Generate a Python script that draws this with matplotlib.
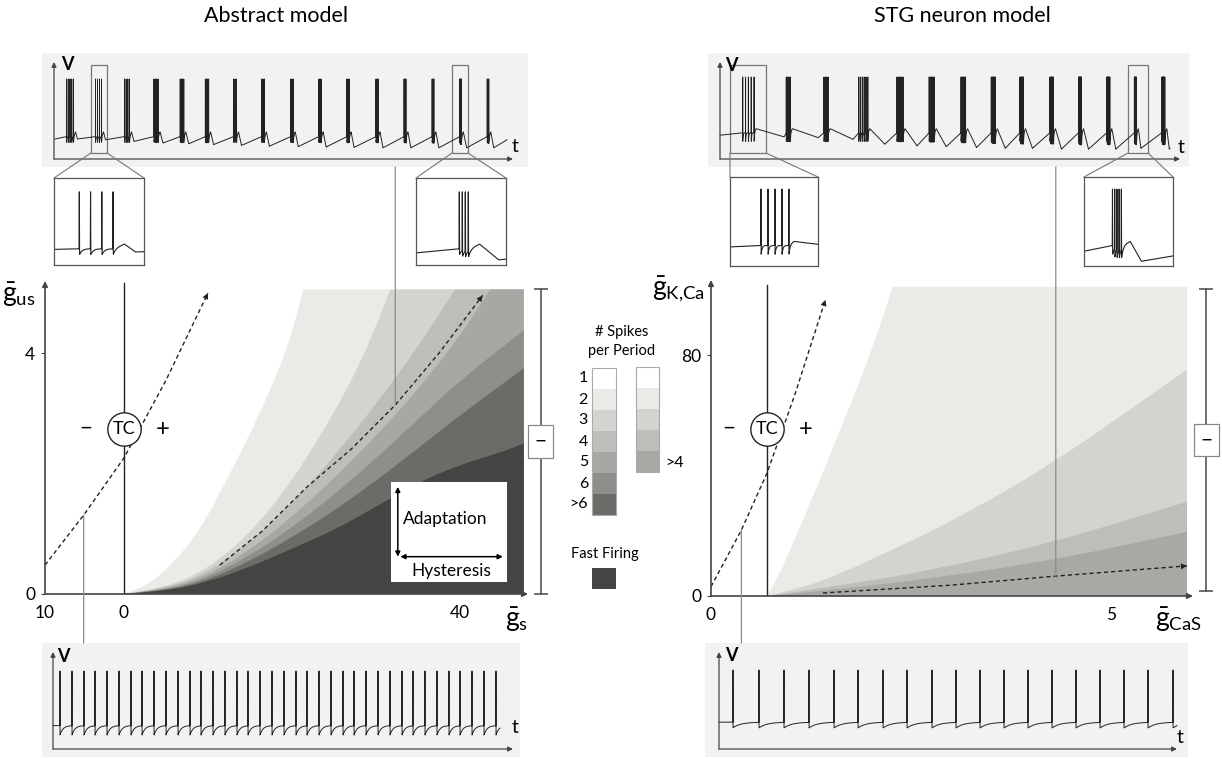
import numpy as np
import matplotlib
matplotlib.use("Agg")
import matplotlib.pyplot as plt
from matplotlib.patches import Rectangle, ConnectionPatch, PathPatch
from matplotlib.path import Path
from matplotlib.transforms import blended_transform_factory

plt.rcParams["font.family"] = ["Lato", "DejaVu Sans"]
plt.rcParams["mathtext.fontset"] = "custom"
plt.rcParams["mathtext.rm"] = "Lato"
plt.rcParams["mathtext.it"] = "Lato:italic"
plt.rcParams["mathtext.bf"] = "Lato:bold"
plt.rcParams["path.simplify"] = False

# ---------------- data ----------------
# abstract model: boundaries between spike-count regions (g_s, g_us)
ABS_B1_GS = [0, 2.7, 5.87, 9.05, 12.22, 16.19, 19.56, 21.35]
ABS_B1_GUS = [0, 0.12, 0.51, 1.06, 1.89, 2.99, 4.11, 5.06]
ABS_B2_GS = [0, 5, 10, 15, 20, 25, 28, 30, 31.7]
ABS_B2_GUS = [0, 0.10, 0.42, 1.0, 1.87, 3.0, 3.8, 4.45, 5.06]
ABS_B3_GS = [0, 5, 10, 15, 20, 25, 30, 35, 39.4]
ABS_B3_GUS = [0, 0.085, 0.36, 0.85, 1.5, 2.28, 3.15, 4.1, 5.06]
ABS_B4_GS = [0, 5, 10, 15, 20, 25, 30, 35, 40, 43.6]
ABS_B4_GUS = [0, 0.075, 0.31, 0.73, 1.28, 1.92, 2.62, 3.4, 4.28, 5.06]
ABS_B5_GS = [0, 5, 10, 15, 20, 25, 30, 35, 40, 47.6]
ABS_B5_GUS = [0, 0.065, 0.27, 0.64, 1.1, 1.65, 2.25, 2.9, 3.55, 4.38]
ABS_B6_GS = [0, 5, 10, 15, 20, 25, 30, 35, 40, 47.6]
ABS_B6_GUS = [0, 0.055, 0.23, 0.55, 0.94, 1.38, 1.88, 2.42, 2.97, 3.75]
ABS_B7_GS = [0, 5, 10, 15, 20, 25, 30, 35, 40, 44.4, 47.6]
ABS_B7_GUS = [0, 0.05, 0.2, 0.45, 0.75, 1.06, 1.45, 1.85, 2.15, 2.33, 2.5]
ABS_TOP = 5.06
ABS_RIGHT = 47.6

ABS_PATH_GS = [11.4, 16.5, 21.8, 27.0, 32.3, 37.5, 42.7]
ABS_PATH_GUS = [0.48, 1.05, 1.78, 2.4, 3.14, 4.0, 4.96]
ABS_TC_GS = [-9.4, -4.8, 0, 5, 10]
ABS_TC_GUS = [0.48, 1.31, 2.26, 3.55, 5.0]

# STG model: boundaries (g_CaS, g_KCa)
STG_B1_X = [0.7, 0.82, 1.01, 1.36, 1.70, 2.03, 2.27]
STG_B1_Y = [0, 5.3, 16.4, 38.5, 60.7, 82.8, 102.6]
STG_B2_X = [0.7, 1.11, 1.53, 2.36, 3.2, 4.31, 5.95]
STG_B2_Y = [0, 2.5, 6.4, 16.4, 27.5, 44.6, 75.2]
STG_B3_X = [0.7, 1.53, 2.78, 4.31, 5.95]
STG_B3_Y = [0, 3.1, 8.6, 18.0, 31.3]
STG_B4_X = [0.7, 1.53, 2.78, 4.31, 5.95]
STG_B4_Y = [0, 2.0, 5.9, 12.0, 21.3]
STG_TOP = 102.6
STG_RIGHT = 5.95

STG_PATH_X = [1.4, 3.0, 4.31, 5.95]
STG_PATH_Y = [1.0, 3.6, 6.6, 10.0]
STG_TC_X = [0, 0.38, 0.7, 1.05, 1.43]
STG_TC_Y = [3.1, 21.9, 40.8, 67.0, 98.3]

# legend
LEGEND_LEFT_LABELS = ["1", "2", "3", "4", "5", "6", ">6"]
LEGEND_LEFT_COLORS = ["#ffffff", "#eaeae6", "#d3d3cf", "#bdbdb9",
                      "#a7a7a3", "#8e8e8a", "#6b6b67"]
LEGEND_RIGHT_COLORS = ["#ffffff", "#eaeae6", "#d3d3cf", "#bdbdb9", "#a8a8a4"]
FAST_COLOR = "#444442"

# voltage traces: burst centres, spikes per burst, burst span, trough level, trough delay
TL_CENTERS = [16, 44.5, 73, 102, 128, 153, 181, 209, 238, 266, 294, 323, 351, 379, 406.5, 434]
TL_SPIKES = [5, 4, 4, 4, 4, 4, 3, 3, 3, 3, 3, 3, 3, 3, 4, 3]
TL_SPANS = [7.0, 6.0, 5.0, 4.0, 3.5, 3.2, 3.0, 2.7, 2.5, 2.3, 2.1, 2.0, 1.8, 1.7, 1.6, 1.5]
TL_TROUGHS = [0.25, 0.24, 0.22, 0.2, 0.19, 0.18, 0.17, 0.16, 0.155, 0.15,
              0.145, 0.14, 0.14, 0.14, 0.14, 0.14]
TL_DELAYS = [4, 4, 4.5, 5, 5, 5, 5, 5, 5, 5, 5, 5, 5, 5, 5.4, 5]

TR_CENTERS = [28.4, 68.3, 106, 143.3, 180, 211.7, 243.3, 273.3, 301.7,
              331.7, 360, 388.3, 415.4, 443.3]
TR_SPIKES = [5, 4, 4, 6, 6, 6, 7, 7, 7, 7, 7, 7, 5, 7]
TR_SPANS = [11.4, 4.0, 4.0, 9.0, 6.0, 5.0, 4.5, 4.0, 3.5, 3.5, 3.0, 3.0, 2.0, 3.0]
TR_TROUGHS = [0.27, 0.26, 0.24, 0.18, 0.16, 0.15, 0.14, 0.13, 0.13, 0.12,
              0.12, 0.12, 0.13, 0.12]
TR_DELAYS = [30, 28, 25, 17, 14, 12, 11, 10, 9, 8, 7, 6, 4.5, 4.5]

BL_SPIKES = [7, 19, 31, 42, 54, 66, 78, 89, 101, 113, 125, 137, 148, 160, 172,
             184, 195, 207, 219, 231, 243, 254, 266, 278, 290, 301, 313, 325,
             337, 349, 360, 372, 384, 396, 407, 419, 431, 443]
BR_SPIKES = [14, 40, 65, 90, 115, 139, 164, 188, 213, 237, 261, 285, 309,
             333, 357, 381, 405, 429, 454]

W, H = 1222, 758
fig = plt.figure(figsize=(W / 100, H / 100), dpi=100)

TRACE_BG = "#f2f2f0"
AXIS_COLOR = "#444444"
LINK_COLOR = "#8a8a8a"
TRACE_COLOR = "#222222"


def px_axes(x0, y0, x1, y1):
    """Axes placed by pixel box (top-left origin)."""
    return fig.add_axes([x0 / W, 1 - y1 / H, (x1 - x0) / W, (y1 - y0) / H])


def arrow(ax, start, end, lw=1.0, color=AXIS_COLOR, scale=8, style="-|>", zorder=3):
    ax.annotate("", xy=end, xytext=start, annotation_clip=False, zorder=zorder,
                arrowprops=dict(arrowstyle=style, color=color, lw=lw,
                                mutation_scale=scale, shrinkA=0, shrinkB=0))


def trace_values(t, spike_times, knot_t, knot_v, ahp, tau, peak=1.0, width=0.05):
    v = np.interp(t, knot_t, knot_v)
    for ts in spike_times:
        d = t - ts
        m = d > 0
        v[m] -= ahp * np.exp(-d[m] / tau)
    for ts in spike_times:
        d = np.abs(t - ts)
        m = d < width
        v[m] = np.maximum(v[m], peak - (peak - v[m]) * d[m] / width)
    return v


def burst_model(t0, v0, t1, v1, centers, n_spikes, spans, troughs, delays, base, hump):
    kt, kv, spikes = [t0], [v0], []
    for c, n, s, tr, dl in zip(centers, n_spikes, spans, troughs, delays):
        b0, b1 = c - s / 2, c + s / 2
        kt += [b0, b1, b1 + min(2.0, dl / 2), b1 + dl]
        kv += [base, base, hump, tr]
        spikes += list(np.linspace(b0, b1, n))
    kt.append(t1)
    kv.append(v1)
    return kt, kv, spikes


def time_grid(t0, t1, spikes, n=60000):
    # make sure every spike peak is sampled
    return np.unique(np.concatenate([np.linspace(t0, t1, n), np.asarray(spikes, float)]))


def trace_axes(box, xlim, ylim, t, v, x_end, y_top, v_pos, t_pos):
    ax = px_axes(*box)
    ax.set_facecolor(TRACE_BG)
    for s in ax.spines.values():
        s.set_visible(False)
    ax.set_xticks([])
    ax.set_yticks([])
    ax.set_xlim(*xlim)
    ax.set_ylim(*ylim)
    ax.plot(t, v, color=TRACE_COLOR, lw=0.7)
    arrow(ax, (0, 0), (x_end, 0), lw=0.9, scale=7)
    arrow(ax, (0, 0), (0, y_top), lw=0.9, scale=7)
    ax.text(*v_pos, "V", fontsize=13, fontweight="bold", ha="center", va="center")
    ax.text(*t_pos, "t", fontsize=14, ha="center", va="center")
    return ax


def inset_axes(box, parent, t, v, xr, yr):
    ax = px_axes(*box)
    ax.plot(t, v, color=TRACE_COLOR, lw=0.8)
    ax.set_xlim(*xr)
    ax.set_ylim(*yr)
    ax.set_xticks([])
    ax.set_yticks([])
    for s in ax.spines.values():
        s.set_color("#555555")
        s.set_linewidth(0.9)
    parent.add_patch(Rectangle((xr[0], yr[0]), xr[1] - xr[0], yr[1] - yr[0],
                               fill=False, ec="#777777", lw=0.9))
    for (px, fx) in ((xr[0], 0), (xr[1], 1)):
        con = ConnectionPatch(xyA=(px, yr[0]), coordsA=parent.transData,
                              xyB=(fx, 1), coordsB=ax.transAxes,
                              color="#777777", lw=0.8)
        fig.add_artist(con)
    return ax


def smooth_region(ax, xs, ys, right, top, color):
    """Area under a boundary, drawn with quadratic Bezier segments through the read points."""
    pts = list(zip(xs, ys))
    verts, codes = [pts[0]], [Path.MOVETO]
    for i in range(1, len(pts) - 1):
        mid = ((pts[i][0] + pts[i + 1][0]) / 2, (pts[i][1] + pts[i + 1][1]) / 2)
        verts += [pts[i], mid]
        codes += [Path.CURVE3, Path.CURVE3]
    verts.append(pts[-1])
    codes.append(Path.LINETO)
    if xs[-1] < right:
        verts.append((right, top))
        codes.append(Path.LINETO)
    verts += [(right, 0), (xs[0], 0), (xs[0], 0)]
    codes += [Path.LINETO, Path.LINETO, Path.CLOSEPOLY]
    ax.add_patch(PathPatch(Path(verts, codes), fc=color, ec="none", lw=0))


def dashed_path(ax, xs, ys):
    ax.plot(xs, ys, color="#222222", lw=1.0, ls=(0, (3, 2.2)), clip_on=False)
    ax.annotate("", xy=(xs[-1], ys[-1]), xytext=(xs[-2], ys[-2]),
                annotation_clip=False,
                arrowprops=dict(arrowstyle="-|>", color="#222222", lw=0,
                                mutation_scale=11, shrinkA=0, shrinkB=0))


def main_axes_style(ax):
    for s in ax.spines.values():
        s.set_visible(False)
    ax.set_facecolor("none")
    ax.tick_params(axis="x", length=0, pad=8, labelsize=12.5)
    ax.tick_params(axis="y", length=3, pad=4, labelsize=12.5, color=AXIS_COLOR)


def bracket(ax, x, y0, y1):
    ax.plot([x, x], [y0, y1], color="#555555", lw=1.2, marker="_",
            markersize=10, mew=1.2, clip_on=False)
    ax.text(x, (y0 + y1) / 2, "\u2212", fontsize=15, ha="center", va="center",
            bbox=dict(boxstyle="square,pad=0.3", fc="white", ec="#888888", lw=0.9))


def tc_marker(ax, x, y, dx):
    ax.plot([x], [y], marker="o", ms=24, mfc="white", mec="#222222", mew=1.0,
            zorder=5, clip_on=False)
    ax.text(x, y, "TC", fontsize=13, ha="center", va="center", zorder=6)
    ax.text(x - dx, y, "\u2212", fontsize=16, ha="center", va="center")
    ax.text(x + dx, y, "+", fontsize=17, ha="center", va="center")


# ---------------- titles ----------------
fig.text(276 / W, 1 - 16 / H, "Abstract model", fontsize=15.5, ha="center", va="center")
fig.text(962 / W, 1 - 16 / H, "STG neuron model", fontsize=15.5, ha="center", va="center")

# ---------------- abstract model traces ----------------
kt, kv, sp = burst_model(1, 0.25, 453, 0.24, TL_CENTERS, TL_SPIKES, TL_SPANS,
                         TL_TROUGHS, TL_DELAYS, base=0.28, hump=0.34)
t_tl = time_grid(1, 453, sp)
v_tl = trace_values(t_tl, sp, kt, kv, ahp=0.08, tau=0.45)
ax_tl = trace_axes((42, 53, 528, 167), (-12, 474), (-0.1, 1.325), t_tl, v_tl,
                   459, 1.2125, (13, 1.175), (461, 0.15))
inset_axes((54, 178, 144, 265), ax_tl, t_tl, v_tl, (37, 53), (0.075, 1.175))
inset_axes((416, 178, 506, 265), ax_tl, t_tl, v_tl, (398, 414), (0.075, 1.175))

t_bl = time_grid(0, 447, BL_SPIKES)
v_bl = trace_values(t_bl, BL_SPIKES, [0, 447], [0.30, 0.30], ahp=0.12, tau=3.0)
ax_bl = trace_axes((42, 643, 520, 757), (-11, 467), (-0.1026, 1.359), t_bl, v_bl,
                   460, 1.244, (10, 1.18), (462, 0.27))

# ---------------- STG traces ----------------
kt, kv, sp = burst_model(0, 0.29, 450, 0.13, TR_CENTERS, TR_SPIKES, TR_SPANS,
                         TR_TROUGHS, TR_DELAYS, base=0.32, hump=0.37)
t_tr = time_grid(0, 450, sp)
v_tr = trace_values(t_tr, sp, kt, kv, ahp=0.12, tau=0.4)
ax_tr = trace_axes((708, 53, 1189, 167), (-12, 469), (-0.0976, 1.2927), t_tr, v_tr,
                   460, 1.183, (11, 1.146), (461, 0.146))
inset_axes((730, 177, 818, 266), ax_tr, t_tr, v_tr, (10, 46), (0.073, 1.146))
inset_axes((1084, 177, 1173, 266), ax_tr, t_tr, v_tr, (408, 428), (0.073, 1.146))

t_br = time_grid(0, 458, BR_SPIKES)
v_br = trace_values(t_br, BR_SPIKES, [0, 458], [0.34, 0.34], ahp=0.07, tau=8.0)
ax_br = trace_axes((705, 643, 1188, 757), (-14, 469), (-0.101, 1.342), t_br, v_br,
                   458, 1.228, (12, 1.19), (461, 0.14))

# ---------------- abstract model map ----------------
ax = px_axes(45, 281, 528, 594)
ax.set_xlim(-9.4, 48.1)
ax.set_ylim(0, 5.2)
main_axes_style(ax)
bounds = [(ABS_B1_GS, ABS_B1_GUS), (ABS_B2_GS, ABS_B2_GUS), (ABS_B3_GS, ABS_B3_GUS),
          (ABS_B4_GS, ABS_B4_GUS), (ABS_B5_GS, ABS_B5_GUS), (ABS_B6_GS, ABS_B6_GUS),
          (ABS_B7_GS, ABS_B7_GUS)]
band_colors = LEGEND_LEFT_COLORS[1:] + [FAST_COLOR]
for (xs, ys), c in zip(bounds, band_colors):
    smooth_region(ax, xs, ys, ABS_RIGHT, ABS_TOP, c)
ax.set_xticks([-9.4, 0, 40], ["10", "0", "40"])
ax.set_yticks([0, 4], ["0", "4"])
arrow(ax, (-9.4, 0), (48.1, 0), lw=1.2)
arrow(ax, (-9.4, 0), (-9.4, 5.2), lw=1.2)
ax.plot([0, 0], [0, 5.16], color="#222222", lw=1.0)
tc_marker(ax, 0, 2.74, 4.55)
dashed_path(ax, ABS_TC_GS, ABS_TC_GUS)
dashed_path(ax, ABS_PATH_GS, ABS_PATH_GUS)
ax.add_patch(Rectangle((31.8, 0.2), 13.8, 1.66, fc="white", ec="none", zorder=4))
arrow(ax, (32.6, 0.62), (32.6, 1.78), lw=1.1, color="black", scale=7,
      style="<|-|>", zorder=6)
arrow(ax, (32.9, 0.62), (45.1, 0.62), lw=1.1, color="black", scale=7,
      style="<|-|>", zorder=6)
ax.text(33.2, 1.24, "Adaptation", fontsize=12.5, ha="left", va="center", zorder=6)
ax.text(39.0, 0.38, "Hysteresis", fontsize=12.5, ha="center", va="center", zorder=6)
ax.text(-14.5, 4.97, r"$\bar{\mathrm{g}}_{\mathrm{us}}$", fontsize=19,
        ha="left", va="center", clip_on=False)
ax.text(46.8, -0.43, r"$\bar{\mathrm{g}}_{\mathrm{s}}$", fontsize=19,
        ha="center", va="center", clip_on=False)
bracket(ax, 49.6, 0, 5.06)
ax_abs = ax

# ---------------- STG map ----------------
ax = px_axes(711, 280, 1193, 596)
ax.set_xlim(0, 6.025)
ax.set_ylim(0, 104.9)
main_axes_style(ax)
bounds = [(STG_B1_X, STG_B1_Y), (STG_B2_X, STG_B2_Y), (STG_B3_X, STG_B3_Y),
          (STG_B4_X, STG_B4_Y)]
for (xs, ys), c in zip(bounds, LEGEND_RIGHT_COLORS[1:]):
    smooth_region(ax, xs, ys, STG_RIGHT, STG_TOP, c)
ax.set_xticks([0, 5], ["0", "5"])
ax.set_yticks([0, 80], ["0", "80"])
arrow(ax, (0, 0), (6.025, 0), lw=1.2)
arrow(ax, (0, 0), (0, 104.9), lw=1.2)
ax.plot([0.7, 0.7], [0, 103.2], color="#222222", lw=1.0)
tc_marker(ax, 0.7, 55.4, 0.48)
dashed_path(ax, STG_TC_X, STG_TC_Y)
dashed_path(ax, STG_PATH_X, STG_PATH_Y)
ax.text(-0.74, 101.6, r"$\bar{\mathrm{g}}_{\mathrm{K{,}Ca}}$", fontsize=19,
        ha="left", va="center", clip_on=False)
ax.text(5.84, -8.0, r"$\bar{\mathrm{g}}_{\mathrm{CaS}}$", fontsize=19,
        ha="center", va="center", clip_on=False)
bracket(ax, 6.19, 1.5, 102.0)
ax_stg = ax

# ---------------- links between maps and traces ----------------
links = [
    (ax_abs, (32.3, 3.14), ax_tl, 0),
    (ax_abs, (-4.8, 1.31), ax_bl, 1),
    (ax_stg, (4.31, 6.6), ax_tr, 0),
    (ax_stg, (0.38, 21.9), ax_br, 1),
]
for axm, pt, axt, fy in links:
    con = ConnectionPatch(xyA=pt, coordsA=axm.transData,
                          xyB=(pt[0], fy),
                          coordsB=blended_transform_factory(axm.transData, axt.transAxes),
                          color=LINK_COLOR, lw=0.9)
    fig.add_artist(con)

# ---------------- legend ----------------
lg = px_axes(555, 300, 705, 600)
lg.set_xlim(555, 705)
lg.set_ylim(600, 300)
lg.axis("off")
lg.text(622, 332, "# Spikes", fontsize=10.5, ha="center", va="center")
lg.text(622, 351, "per Period", fontsize=10.5, ha="center", va="center")
for i, (lab, c) in enumerate(zip(LEGEND_LEFT_LABELS, LEGEND_LEFT_COLORS)):
    y = 368 + 21 * i
    lg.add_patch(Rectangle((592, y), 24, 21, fc=c, ec="none"))
    lg.text(588, y + 10.5, lab, fontsize=11.5, ha="right", va="center")
lg.add_patch(Rectangle((592, 368), 24, 21 * len(LEGEND_LEFT_COLORS), fill=False,
                       ec="#aaaaaa", lw=0.8))
for i, c in enumerate(LEGEND_RIGHT_COLORS):
    lg.add_patch(Rectangle((636, 367 + 21 * i), 23, 21, fc=c, ec="none"))
lg.add_patch(Rectangle((636, 367), 23, 21 * len(LEGEND_RIGHT_COLORS), fill=False,
                       ec="#aaaaaa", lw=0.8))
lg.text(665, 463, ">4", fontsize=11.5, ha="left", va="center")
lg.text(605, 554, "Fast Firing", fontsize=10.5, ha="center", va="center")
lg.add_patch(Rectangle((592, 568), 24, 21, fc=FAST_COLOR, ec="none"))

fig.savefig("out.png", dpi=100)
